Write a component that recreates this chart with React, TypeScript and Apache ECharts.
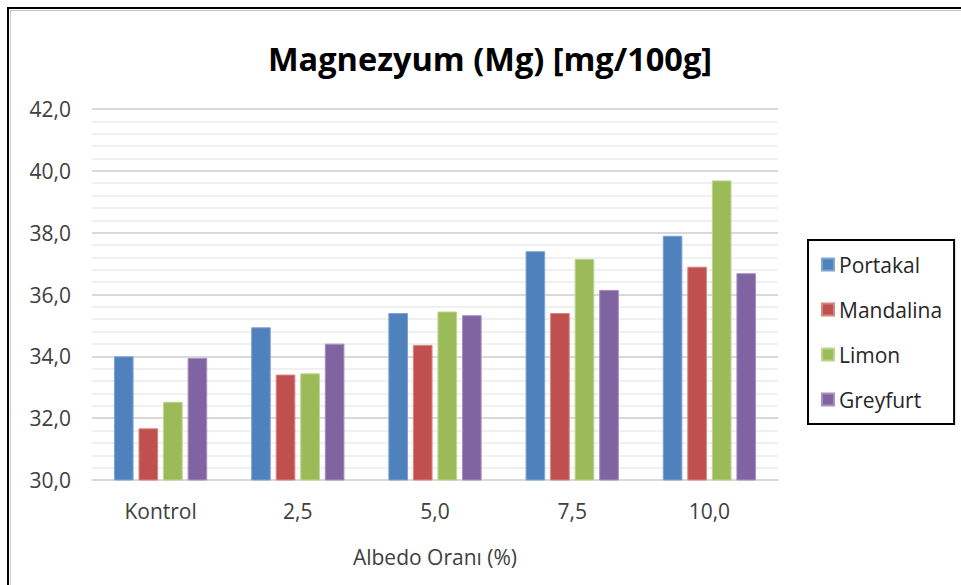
import React, { useEffect, useRef } from "react";
import * as echarts from "echarts";

const categories = ["Kontrol", "2,5", "5,0", "7,5", "10,0"];
const seriesNames = ["Portakal", "Mandalina", "Limon", "Greyfurt"];
const portakal = [34.0, 34.94, 35.4, 37.4, 37.9];
const mandalina = [31.67, 33.41, 34.37, 35.4, 36.9];
const limon = [32.53, 33.45, 35.45, 37.15, 39.69];
const greyfurt = [33.95, 34.41, 35.33, 36.15, 36.69];
const colors = ["#4F81BD", "#C0504D", "#9BBB59", "#8064A2"];
const borderColors = ["#7FA3D3", "#D88481", "#BDD58E", "#A690C0"];

const FONT = "Open Sans";

export default function App() {
  const ref = useRef<HTMLDivElement>(null);
  useEffect(() => {
    if (!ref.current) return;
    const chart = echarts.init(ref.current, undefined, { renderer: "svg" });
    const values = [portakal, mandalina, limon, greyfurt];
    chart.setOption({
      animation: false,
      backgroundColor: "#ffffff",
      color: colors,
      textStyle: { fontFamily: FONT },
      title: {
        text: "Magnezyum (Mg) [mg/100g]",
        left: 485,
        textAlign: "center",
        top: 37,
        textStyle: { fontFamily: FONT, fontSize: 32.5, fontWeight: "bold", color: "#000000" },
      },
      legend: {
        orient: "vertical",
        left: 808,
        top: 240,
        data: seriesNames,
        borderColor: "#000000",
        borderWidth: 2,
        padding: [14, 12, 14, 13],
        itemWidth: 12,
        itemHeight: 12,
        itemGap: 24,
        icon: "rect",
        textStyle: { fontFamily: FONT, fontSize: 21, color: "#262626" },
      },
      grid: { left: 92, right: 183, top: 109, bottom: 105, containLabel: false },
      xAxis: {
        type: "category",
        data: categories,
        name: "Albedo Oranı (%)",
        nameLocation: "middle",
        nameGap: 66,
        nameTextStyle: { fontFamily: FONT, fontSize: 21, color: "#404040" },
        axisLine: { show: true, lineStyle: { color: "#D9D9D9", width: 2 } },
        axisTick: { show: false },
        axisLabel: { fontFamily: FONT, fontSize: 21, color: "#404040", margin: 20 },
      },
      yAxis: {
        type: "value",
        min: 30,
        max: 42,
        interval: 2,
        axisLine: { show: false },
        axisTick: { show: false },
        axisLabel: {
          fontFamily: FONT,
          fontSize: 21,
          color: "#404040",
          margin: 21,
          formatter: (v: number) => v.toFixed(1).replace(".", ","),
        },
        splitLine: { show: true, lineStyle: { color: "#D9D9D9", width: 2 } },
        minorTick: { show: false, splitNumber: 5 },
        minorSplitLine: { show: true, lineStyle: { color: "#F0F0F0", width: 2 } },
      },
      series: seriesNames.map((name, i) => ({
        name,
        type: "bar",
        data: values[i],
        barGap: "25%",
        barCategoryGap: "32%",
        itemStyle: { color: colors[i], borderColor: borderColors[i], borderWidth: 1 },
      })),
      graphic: [
        {
          type: "rect",
          shape: { x: 8, y: 8, width: 1200, height: 1200 },
          style: { fill: "none", stroke: "#000000", lineWidth: 2 },
          z: 100,
        },
        {
          type: "line",
          shape: { x1: 10, y1: 10.5, x2: 961, y2: 10.5 },
          style: { stroke: "#C8C8C8", lineWidth: 1 },
          z: 100,
        },
        {
          type: "line",
          shape: { x1: 10.5, y1: 10, x2: 10.5, y2: 585 },
          style: { stroke: "#C8C8C8", lineWidth: 1 },
          z: 100,
        },
      ],
    });
    return () => chart.dispose();
  }, []);
  return (
    <div
      ref={ref}
      style={{ position: "fixed", left: 0, top: 0, width: 961, height: 585 }}
    />
  );
}
